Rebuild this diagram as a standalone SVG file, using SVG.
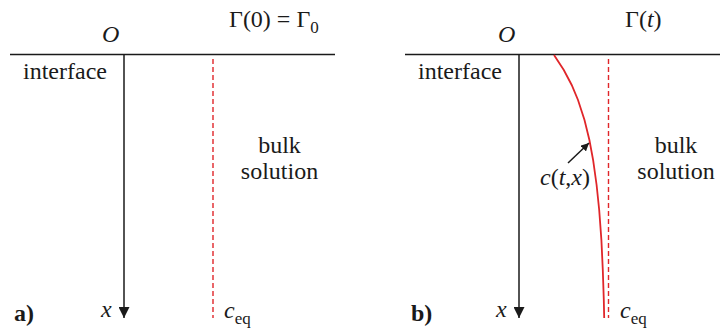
<svg xmlns="http://www.w3.org/2000/svg" width="720" height="333" viewBox="0 0 720 333">
<defs>
<style>
.t{font-family:'Liberation Serif','Times New Roman',Times,'Nimbus Roman','Nimbus Roman No9 L',Tinos,'DejaVu Serif','Noto Serif',serif;font-size:24px;fill:#1a1a1a}
.it{font-style:italic}
.sub{font-size:17px}
.ax{stroke:#1a1a1a;stroke-width:1.5;fill:none}
.eq{stroke:#e0262a;stroke-width:1.4;stroke-dasharray:5,3;fill:none}
.prof{stroke:#e0262a;stroke-width:1.8;fill:none}
</style>
<marker id="ah" viewBox="0 0 10 10" refX="10" refY="5" markerWidth="11" markerHeight="11" markerUnits="userSpaceOnUse" orient="auto">
<path d="M0,0 L10,5 L0,10 Z" fill="#1a1a1a"/>
</marker>
<marker id="ah2" viewBox="0 0 10 10" refX="10" refY="5" markerWidth="8" markerHeight="8" markerUnits="userSpaceOnUse" orient="auto">
<path d="M0,0 L10,5 L0,10 Z" fill="#1a1a1a"/>
</marker>
</defs>
<g id="connectors">
<line class="ax" x1="10" y1="54.5" x2="335" y2="54.5"/>
<line class="ax" x1="124" y1="54.5" x2="124" y2="318" marker-end="url(#ah)"/>
<line class="eq" x1="213" y1="59" x2="213" y2="318"/>
<line class="ax" x1="405" y1="54.5" x2="720" y2="54.5"/>
<line class="ax" x1="519" y1="54.5" x2="519" y2="318" marker-end="url(#ah)"/>
<line class="eq" x1="608.5" y1="59" x2="608.5" y2="318"/>
<path class="prof" d="M554,55 L563.8,70 L571.7,85 L578,100 L584.5,120 L589.4,140 L593.1,160 L596.6,185 L599.2,210 L601.4,240 L602.8,270 L603.8,300 L604.2,318"/>
<line class="ax" stroke-width="1.3" x1="568" y1="163" x2="589" y2="143" marker-end="url(#ah2)"/>
</g>
<g id="panel-a" class="t">
<text class="it" x="102" y="42">O</text>
<text x="229" y="27">Γ(0) = Γ<tspan class="sub" dy="6">0</tspan></text>
<text x="23" y="79">interface</text>
<text x="279.5" y="153" text-anchor="middle">bulk</text>
<text x="279.5" y="179" text-anchor="middle">solution</text>
<text x="14" y="321" font-weight="bold">a)</text>
<text class="it" x="101" y="317">x</text>
<text x="224" y="318"><tspan class="it">c</tspan><tspan class="sub" dy="6">eq</tspan></text>
</g>
<g id="panel-b" class="t">
<text class="it" x="498" y="42">O</text>
<text x="625" y="27">Γ(<tspan class="it">t</tspan>)</text>
<text x="418" y="79">interface</text>
<text x="676" y="153" text-anchor="middle">bulk</text>
<text x="676" y="179" text-anchor="middle">solution</text>
<text x="540" y="185"><tspan class="it">c</tspan>(<tspan class="it">t</tspan>,<tspan class="it">x</tspan>)</text>
<text x="411" y="321" font-weight="bold">b)</text>
<text class="it" x="496" y="317">x</text>
<text x="620" y="318"><tspan class="it">c</tspan><tspan class="sub" dy="6">eq</tspan></text>
</g>
</svg>
